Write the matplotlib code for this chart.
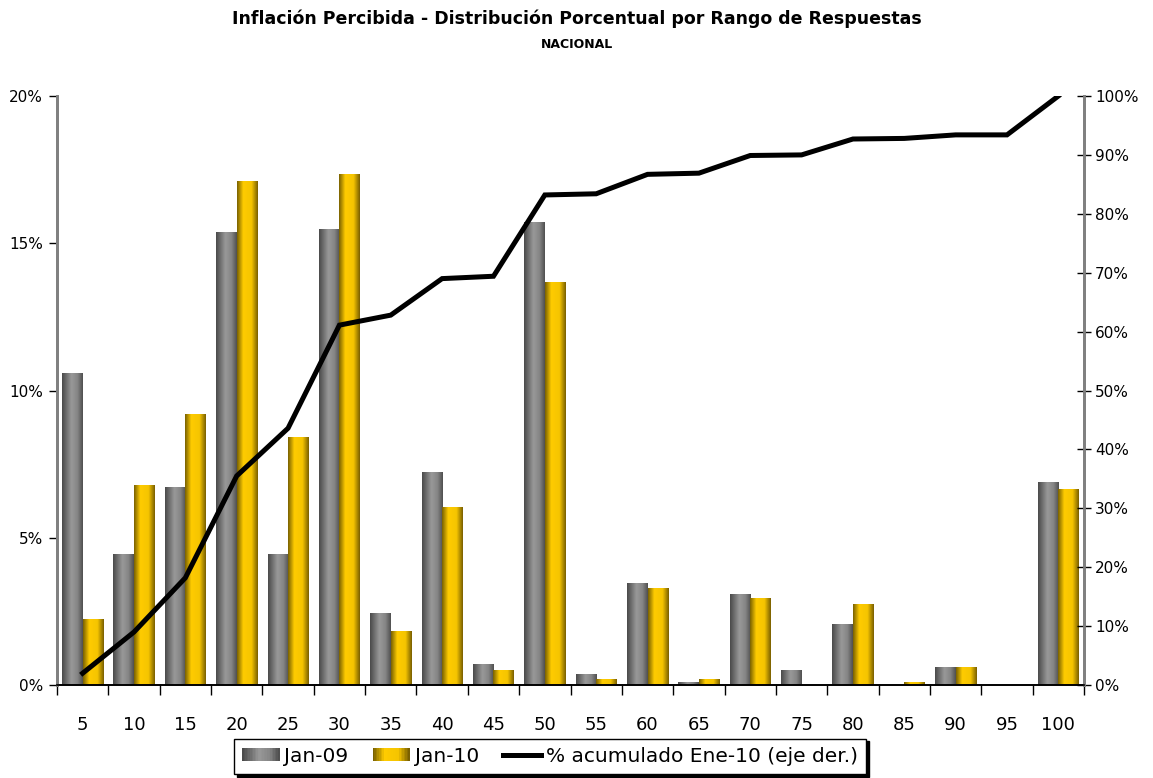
import numpy as np
import matplotlib
matplotlib.use('Agg')
from matplotlib import pyplot as plt
from matplotlib.colors import LinearSegmentedColormap
from matplotlib.patches import Rectangle
from matplotlib.legend_handler import HandlerBase
from matplotlib.lines import Line2D
from matplotlib.ticker import FuncFormatter, FixedLocator

# Datos (porcentaje de respuestas por rango)
rangos = ['5', '10', '15', '20', '25', '30', '35', '40', '45', '50',
          '55', '60', '65', '70', '75', '80', '85', '90', '95', '100']
jan09 = [10.56, 4.42, 6.72, 15.37, 4.42, 15.45, 2.44, 7.23, 0.71, 15.72,
         0.34, 3.43, 0.10, 3.06, 0.48, 2.07, 0.00, 0.61, 0.00, 6.86]
jan10 = [2.24, 6.76, 9.20, 17.11, 8.40, 17.32, 1.83, 6.04, 0.48, 13.68,
         0.17, 3.26, 0.17, 2.95, 0.00, 2.75, 0.07, 0.61, 0.00, 6.65]
acumulado = [2.0, 9.0, 18.2, 35.5, 43.6, 61.1, 62.8, 69.0, 69.4, 83.2,
             83.4, 86.7, 86.9, 89.9, 90.0, 92.7, 92.8, 93.4, 93.4, 100.0]

# Degradados tipo "cilindro" de Excel
cm_gris = LinearSegmentedColormap.from_list(
    'gris', [(0.0, '#4a4a4a'), (0.45, '#999999'), (0.75, '#858585'), (1.0, '#505050')])
cm_oro = LinearSegmentedColormap.from_list(
    'oro', [(0.0, '#7a6200'), (0.3, '#ffcc00'), (0.7, '#f5c400'), (1.0, '#7a6000')])
grad = np.linspace(0, 1, 64).reshape(1, -1)


def barra_degradado(ax, x0, ancho, alto, cmap):
    if alto <= 0:
        return
    ax.imshow(grad, cmap=cmap, aspect='auto', extent=(x0, x0 + ancho, 0, alto),
              interpolation='bilinear', zorder=2)


class HandlerDegradado(HandlerBase):
    def __init__(self, cmap):
        super().__init__()
        self.cmap = cmap

    def create_artists(self, legend, orig_handle, xdescent, ydescent,
                       width, height, fontsize, trans):
        n = 24
        arts = []
        for i in range(n):
            r = Rectangle((-xdescent + i * width / n, -ydescent), width / n + 0.3, height,
                          facecolor=self.cmap(i / (n - 1)), edgecolor='none',
                          transform=trans)
            arts.append(r)
        return arts


plt.rcParams['font.family'] = ['DejaVu Sans']

fig = plt.figure(figsize=(11.53, 7.78), dpi=100)
ax = fig.add_axes([0.0494, 0.1195, 0.8908, 0.7571])
ax2 = ax.twinx()

x = np.arange(len(rangos))
w = 0.4
for i in range(len(rangos)):
    barra_degradado(ax, x[i] - w, w, jan09[i], cm_gris)
    barra_degradado(ax, x[i], w, jan10[i], cm_oro)

ax.set_xlim(-0.5, len(rangos) - 0.5)
ax.set_ylim(0, 20)
ax.set_yticks([0, 5, 10, 15, 20])
ax.yaxis.set_major_formatter(FuncFormatter(lambda v, p: '%d%%' % v))
ax.tick_params(axis='y', direction='out', length=6, width=1, color='black',
               labelsize=11, pad=4)

ax.set_xticks(x)
ax.set_xticklabels(rangos)
ax.xaxis.set_minor_locator(FixedLocator(np.arange(-0.5, len(rangos), 1)))
ax.tick_params(axis='x', which='major', length=0, labelsize=13, pad=22)
ax.tick_params(axis='x', which='minor', direction='out', length=7, width=1, color='black')

ax2.plot(x, acumulado, color='black', lw=3.6, solid_joinstyle='miter', zorder=5)
ax2.set_ylim(0, 100)
ax2.set_yticks(np.arange(0, 101, 10))
ax2.yaxis.set_major_formatter(FuncFormatter(lambda v, p: '%d%%' % v))
ax2.tick_params(axis='y', direction='inout', length=10, width=1, color='black',
                labelsize=11, pad=3)

for a in (ax, ax2):
    a.spines['top'].set_visible(False)
    a.spines['left'].set_color('#808080')
    a.spines['right'].set_color('#808080')
    a.spines['left'].set_linewidth(2)
    a.spines['right'].set_linewidth(2)
    a.spines['bottom'].set_color('black')
    a.spines['bottom'].set_linewidth(1.2)

fig.text(0.5, 0.976, 'Inflación Percibida - Distribución Porcentual por Rango de Respuestas',
         ha='center', va='center', fontsize=12.5, fontweight='bold')
fig.text(0.5, 0.943, 'NACIONAL', ha='center', va='center', fontsize=9, fontweight='bold')

h1 = Rectangle((0, 0), 1, 1)
h2 = Rectangle((0, 0), 1, 1)
h3 = Line2D([0], [0], color='black', lw=3.6)
leg = fig.legend([h1, h2, h3], ['Jan-09', 'Jan-10', '% acumulado Ene-10 (eje der.)'],
                 loc='center', bbox_to_anchor=(0.477, 0.028), ncol=3,
                 handler_map={h1: HandlerDegradado(cm_gris), h2: HandlerDegradado(cm_oro)},
                 fontsize=14.5, frameon=True, fancybox=False, framealpha=1,
                 edgecolor='black', borderpad=0.4, handlelength=1.85, handleheight=0.65,
                 handletextpad=0.25, columnspacing=1.2,
                 shadow={'color': 'black', 'alpha': 1, 'ox': 2, 'oy': -2})
leg.get_frame().set_linewidth(1)

fig.savefig('out.png', dpi=100)
